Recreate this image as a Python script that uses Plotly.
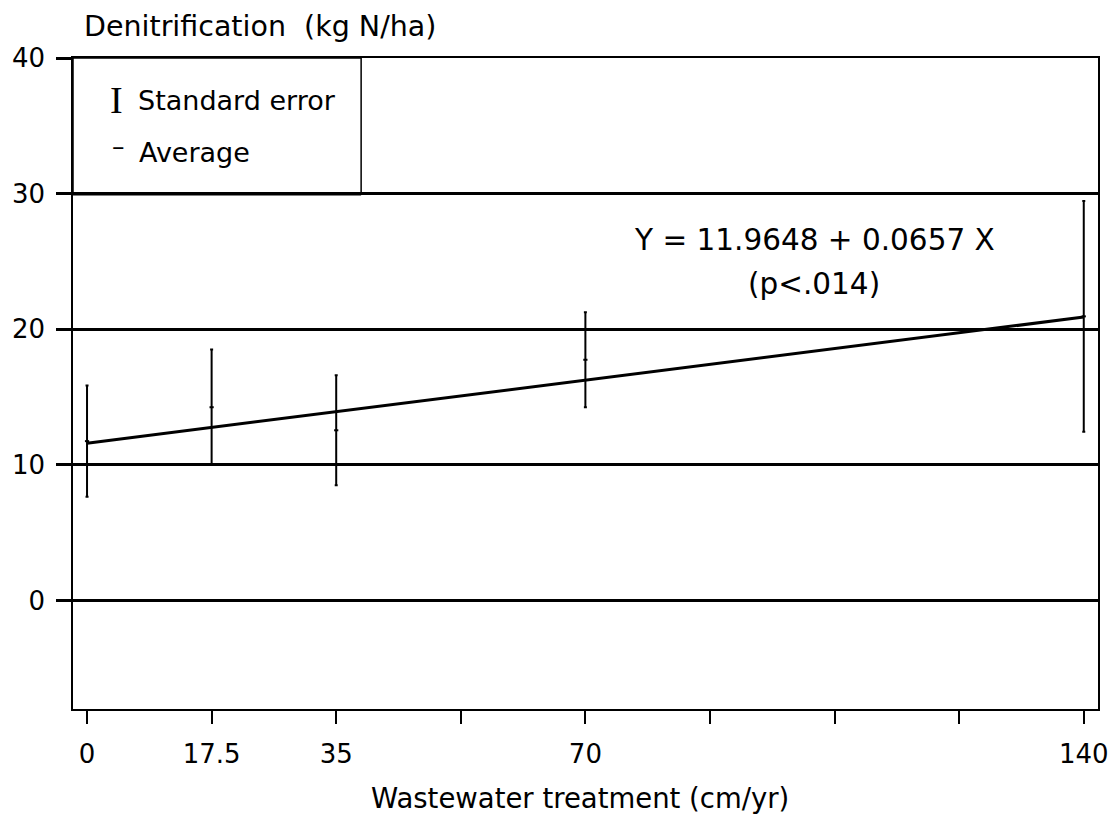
import plotly.graph_objects as go

# ---- data ----
treatment = [0, 17.5, 35, 70, 140]               # cm/yr
avg_denit = [11.75, 14.25, 12.55, 17.75, 20.95]  # kg N/ha
std_err = [4.1, 4.25, 4.05, 3.5, 8.5]
reg_x = [0, 140]
reg_y = [11.6, 20.9]
x_tickvals = [0, 17.5, 35, 52.5, 70, 87.5, 105, 122.5, 140]
x_ticktext = ["0", "17.5", "35", "", "70", "", "", "", "140"]
y_tickvals = [0, 10, 20, 30, 40]

FONT = "DejaVu Sans"

fig = go.Figure()

# error bars with average tick
fig.add_trace(go.Scatter(
    x=treatment, y=avg_denit, mode="markers",
    marker=dict(symbol="line-ew", size=3, line=dict(width=2, color="black"), color="black"),
    error_y=dict(type="data", array=std_err, visible=True, color="black",
                 thickness=2, width=1.5),
    showlegend=False, hoverinfo="skip",
))

# regression line
fig.add_trace(go.Scatter(
    x=reg_x, y=reg_y, mode="lines",
    line=dict(color="black", width=3),
    showlegend=False, hoverinfo="skip",
))

XR = [-1.97, 142.0]
YR = [-8, 40]

# legend box
fig.add_shape(type="rect", xref="x", yref="y", x0=XR[0], x1=38.5, y0=30, y1=40,
              line=dict(color="black", width=1.5), layer="above")
fig.add_shape(type="line", xref="x", yref="y", x0=XR[0], x1=38.5, y0=30, y1=30,
              line=dict(color="black", width=3.5), layer="above")

annos = [
    dict(x=4.2, y=36.9, xref="x", yref="y", text="I", showarrow=False,
         font=dict(family="Liberation Serif", size=38, color="black"),
         xanchor="center", yanchor="middle"),
    dict(x=6.9, y=36.9, xref="x", yref="y", text="Standard error", showarrow=False,
         font=dict(family=FONT, size=27, color="black"), xanchor="left", yanchor="middle"),
    dict(x=4.35, y=33.5, xref="x", yref="y", text="–", showarrow=False,
         font=dict(family=FONT, size=25, color="black"), xanchor="center", yanchor="middle"),
    dict(x=7.0, y=33.0, xref="x", yref="y", text="Average", showarrow=False,
         font=dict(family=FONT, size=27, color="black"), xanchor="left", yanchor="middle"),
    dict(x=102.2, y=26.6, xref="x", yref="y", text="Y = 11.9648 + 0.0657 X", showarrow=False,
         font=dict(family=FONT, size=29.5, color="black"), xanchor="center", yanchor="middle"),
    dict(x=102.1, y=23.3, xref="x", yref="y", text="(p<.014)", showarrow=False,
         font=dict(family=FONT, size=29.5, color="black"), xanchor="center", yanchor="middle"),
    dict(x=0.0088, y=1.0768, xref="paper", yref="paper", text="Denitrification  (kg N/ha)",
         showarrow=False, font=dict(family=FONT, size=28.5, color="black"),
         xanchor="left", yanchor="top"),
    dict(x=0.4946, y=-0.1640, xref="paper", yref="paper", text="Wastewater treatment (cm/yr)",
         showarrow=False, font=dict(family=FONT, size=27.5, color="black"),
         xanchor="center", yanchor="bottom"),
]

# page body has an 8px margin: shift the figure so the plot area lands where the reference has it
fig.update_layout(
    width=1101, height=808,
    margin=dict(l=65, r=11, t=50, b=107),
    paper_bgcolor="white", plot_bgcolor="white",
    annotations=annos,
    showlegend=False,
    xaxis=dict(range=XR, tickvals=x_tickvals, ticktext=x_ticktext, automargin=False,
               ticks="outside", ticklen=13, tickwidth=1.5, tickcolor="black",
               showline=True, linecolor="black", linewidth=2, mirror=True,
               showgrid=False, zeroline=False,
               tickfont=dict(family=FONT, size=26, color="black"),
               ticklabelstandoff=8),
    yaxis=dict(range=YR, tickvals=y_tickvals, automargin=False,
               ticks="outside", ticklen=15, tickwidth=2.5, tickcolor="black",
               showline=True, linecolor="black", linewidth=1.5, mirror=True,
               showgrid=True, gridcolor="black", gridwidth=2.5, zeroline=False,
               tickfont=dict(family=FONT, size=26, color="black"),
               ticklabelstandoff=6),
)

fig.write_html("out.html")
